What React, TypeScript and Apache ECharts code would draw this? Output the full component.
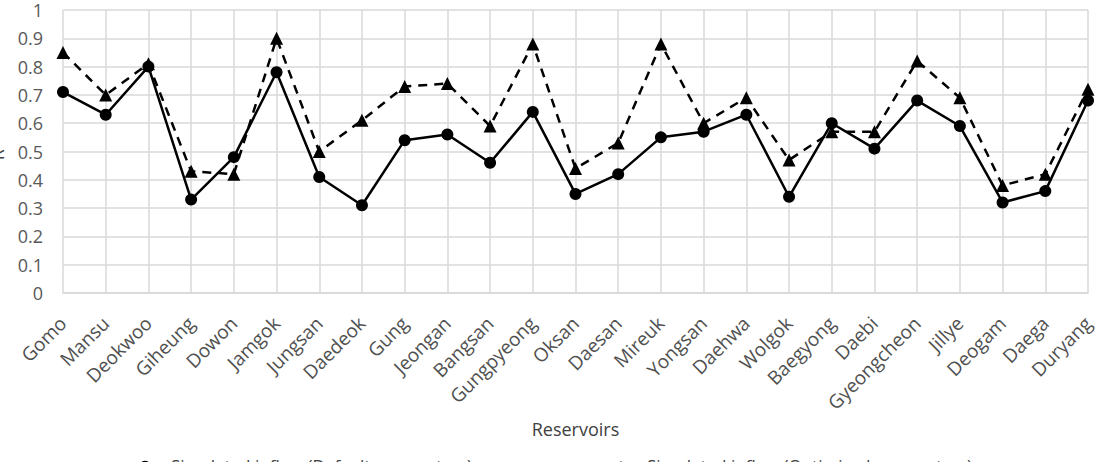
import React, { useEffect, useRef } from "react";
import * as echarts from "echarts";

// Reservoir names along the category axis
const reservoirs = [
  "Gomo", "Mansu", "Deokwoo", "Giheung", "Dowon", "Jamgok", "Jungsan", "Daedeok",
  "Gung", "Jeongan", "Bangsan", "Gungpyeong", "Oksan", "Daesan", "Mireuk", "Yongsan",
  "Daehwa", "Wolgok", "Baegyong", "Daebi", "Gyeongcheon", "Jillye", "Deogam", "Daega",
  "Duryang",
];

// Goodness-of-fit for each reservoir
const defaultParams = [
  0.71, 0.63, 0.8, 0.33, 0.48, 0.78, 0.41, 0.31, 0.54, 0.56, 0.46, 0.64, 0.35,
  0.42, 0.55, 0.57, 0.63, 0.34, 0.6, 0.51, 0.68, 0.59, 0.32, 0.36, 0.68,
];
const optimizedParams = [
  0.85, 0.7, 0.81, 0.43, 0.42, 0.9, 0.5, 0.61, 0.73, 0.74, 0.59, 0.88, 0.44,
  0.53, 0.88, 0.6, 0.69, 0.47, 0.57, 0.57, 0.82, 0.69, 0.38, 0.42, 0.72,
];

const seriesNames = [
  "Simulated inflow (Default parameters)",
  "Simulated inflow (Optimized parameters)",
];

const yTicks = { min: 0, max: 1, interval: 0.1 };

const FONT = "'Open Sans', sans-serif";
const TEXT = "#595959";
const GRID = "#d9d9d9";

export default function App() {
  const ref = useRef<HTMLDivElement>(null);

  useEffect(() => {
    if (!ref.current) return;
    const chart = echarts.init(ref.current, null, { renderer: "svg" });
    chart.setOption({
      animation: false,
      backgroundColor: "#ffffff",
      textStyle: { fontFamily: FONT, color: TEXT },
      grid: { left: 63, right: 12, top: 10, bottom: 169, containLabel: false, outerBoundsMode: "none" },
      legend: [
        {
          data: [seriesNames[0]],
          left: 118,
          top: 452,
          itemWidth: 42,
          itemHeight: 12,
          textStyle: { fontFamily: FONT, color: "#404040", fontSize: 17 },
        },
        {
          data: [seriesNames[1]],
          left: 594,
          top: 452,
          itemWidth: 42,
          itemHeight: 12,
          textStyle: { fontFamily: FONT, color: "#404040", fontSize: 17 },
        },
      ],
      xAxis: {
        type: "category",
        data: reservoirs,
        boundaryGap: false,
        name: "Reservoirs",
        nameLocation: "middle",
        nameGap: 120,
        nameTextStyle: { fontFamily: FONT, color: "#404040", fontSize: 18 },
        axisLine: { lineStyle: { color: GRID, width: 1.5 } },
        axisTick: { show: false },
        axisLabel: {
          rotate: 45,
          margin: 27,
          interval: 0,
          fontSize: 19,
          color: "#505050",
          fontFamily: FONT,
        },
        splitLine: { show: true, interval: 0, lineStyle: { color: GRID, width: 1.5 } },
      },
      yAxis: {
        type: "value",
        min: yTicks.min,
        max: yTicks.max,
        interval: yTicks.interval,
        name: "R²",
        nameLocation: "middle",
        nameRotate: 90,
        nameGap: 57,
        nameTextStyle: { fontFamily: FONT, color: "#404040", fontSize: 18 },
        axisLine: { show: false },
        axisTick: { show: false },
        axisLabel: {
          margin: 20,
          fontSize: 18,
          color: TEXT,
          fontFamily: FONT,
          formatter: (v: number) => String(Math.round(v * 10) / 10),
        },
        splitLine: { show: true, lineStyle: { color: GRID, width: 1.5 } },
      },
      series: [
        {
          name: seriesNames[0],
          type: "line",
          data: defaultParams,
          symbol: "circle",
          symbolSize: 12,
          z: 3,
          lineStyle: { color: "#000", width: 2.5 },
          itemStyle: { color: "#000" },
        },
        {
          name: seriesNames[1],
          type: "line",
          data: optimizedParams,
          symbol: "triangle",
          symbolSize: 13,
          z: 2,
          lineStyle: { color: "#000", width: 2.5, type: [9, 7] },
          itemStyle: { color: "#000" },
        },
      ],
    });
    return () => chart.dispose();
  }, []);

  return (
    <div
      ref={ref}
      style={{ position: "absolute", left: 0, top: 0, width: 1100, height: 462 }}
    />
  );
}
